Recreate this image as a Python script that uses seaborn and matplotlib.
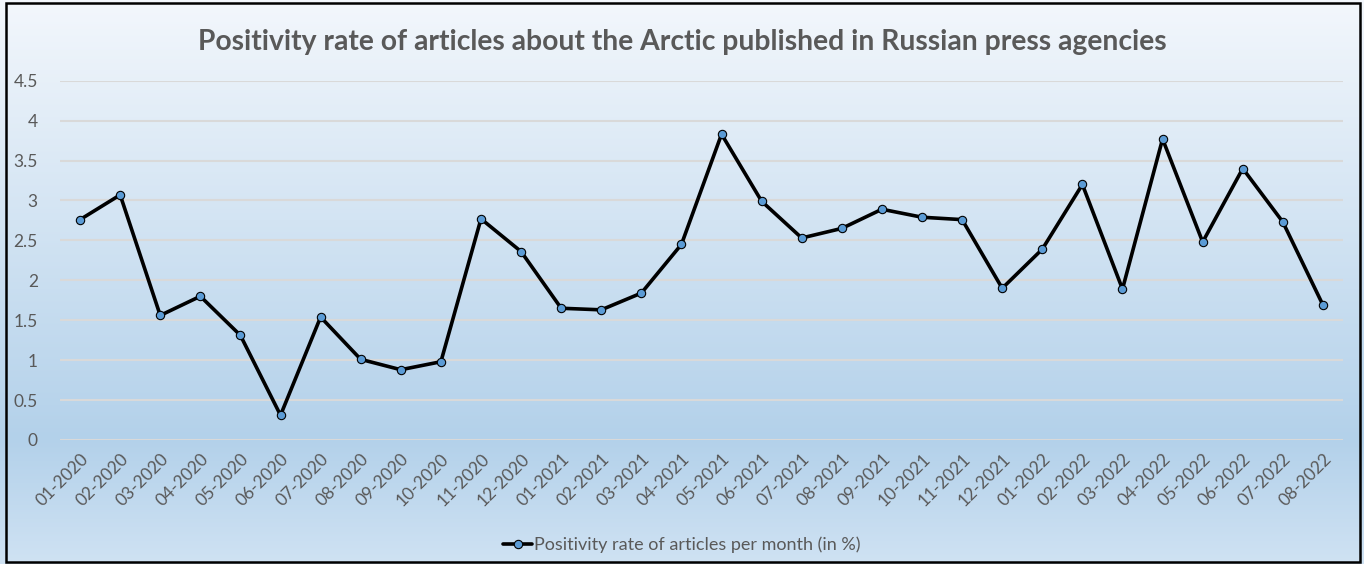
import pandas as pd
import seaborn as sns
import matplotlib.pyplot as plt
import numpy as np
from matplotlib.colors import LinearSegmentedColormap
from matplotlib.lines import Line2D
from matplotlib.patches import Rectangle

# Data
months = ['01-2020', '02-2020', '03-2020', '04-2020', '05-2020', '06-2020',
          '07-2020', '08-2020', '09-2020', '10-2020', '11-2020', '12-2020',
          '01-2021', '02-2021', '03-2021', '04-2021', '05-2021', '06-2021',
          '07-2021', '08-2021', '09-2021', '10-2021', '11-2021', '12-2021',
          '01-2022', '02-2022', '03-2022', '04-2022', '05-2022', '06-2022',
          '07-2022', '08-2022']
positivity = [2.76, 3.07, 1.56, 1.80, 1.31, 0.31,
              1.54, 1.01, 0.88, 0.98, 2.77, 2.36,
              1.65, 1.63, 1.84, 2.45, 3.83, 2.99,
              2.53, 2.65, 2.89, 2.79, 2.76, 1.90,
              2.39, 3.20, 1.89, 3.77, 2.48, 3.40,
              2.73, 1.69]
yticks = [0, 0.5, 1, 1.5, 2, 2.5, 3, 3.5, 4, 4.5]
ytick_labels = ['0', '0.5', '1', '1.5', '2', '2.5', '3', '3.5', '4', '4.5']

title = 'Positivity rate of articles about the Arctic published in Russian press agencies'
series_name = 'Positivity rate of articles per month (in %)'

df = pd.DataFrame({'month': months, 'value': positivity})
df['pos'] = np.arange(len(df))

sns.set_theme(style='white')
plt.rcParams['font.family'] = ['Lato', 'DejaVu Sans']

text_grey = '#595959'

fig = plt.figure(figsize=(13.64, 5.64), dpi=100)

# Gradient background for the whole chart area
bg = fig.add_axes([0, 0, 1, 1], zorder=-10)
grad_cmap = LinearSegmentedColormap.from_list(
    'bg', [(0.0, '#cfe2f3'), (0.22, '#b3d1ea'), (1.0, '#f3f7fc')])
bg.imshow(np.linspace(0, 1, 256).reshape(-1, 1), aspect='auto',
          cmap=grad_cmap, origin='lower', extent=[0, 1, 0, 1])
bg.set_xlim(0, 1)
bg.set_ylim(0, 1)
bg.axis('off')
bg.add_patch(Rectangle((0.0045, 0.004), 0.9925, 0.99, fill=False,
                       edgecolor='black', linewidth=1.8,
                       transform=bg.transAxes))

ax = fig.add_axes([0.044, 0.2199, 0.9406, 0.637])
ax.patch.set_alpha(0)

sns.lineplot(data=df, x='pos', y='value', ax=ax, color='black',
             linewidth=2.6, marker='o', markersize=6,
             markerfacecolor='#5b9bd5', markeredgecolor='black',
             markeredgewidth=0.8, zorder=3)

ax.set_xlim(-0.5, len(months) - 0.5)
ax.set_ylim(0, 4.5)
ax.set_yticks(yticks)
ax.set_yticklabels(ytick_labels)
ax.set_xticks(df['pos'])
ax.set_xticklabels(months, rotation=45, ha='right', rotation_mode='anchor')
ax.tick_params(axis='x', labelsize=12.5, colors=text_grey, length=0, pad=8)
ax.tick_params(axis='y', labelsize=12.5, colors=text_grey, length=0, pad=16)
ax.yaxis.grid(True, color='#d9d9d9', linewidth=1.5, zorder=0)
ax.set_axisbelow(True)
ax.set_xlabel('')
ax.set_ylabel('')
for s in ax.spines.values():
    s.set_visible(False)

fig.text(0.5, 0.925, title, ha='center', va='center', fontsize=20.3,
         fontweight='bold', color=text_grey)

handle = Line2D([0], [0], color='black', linewidth=2.6, marker='o',
                markersize=6, markerfacecolor='#5b9bd5',
                markeredgecolor='black', markeredgewidth=0.8)
fig.legend([handle], [series_name], loc='center', bbox_to_anchor=(0.5, 0.034),
           frameon=False, fontsize=13, labelcolor=text_grey,
           handlelength=1.6, handletextpad=0.1)

fig.savefig('out.png', dpi=100)
